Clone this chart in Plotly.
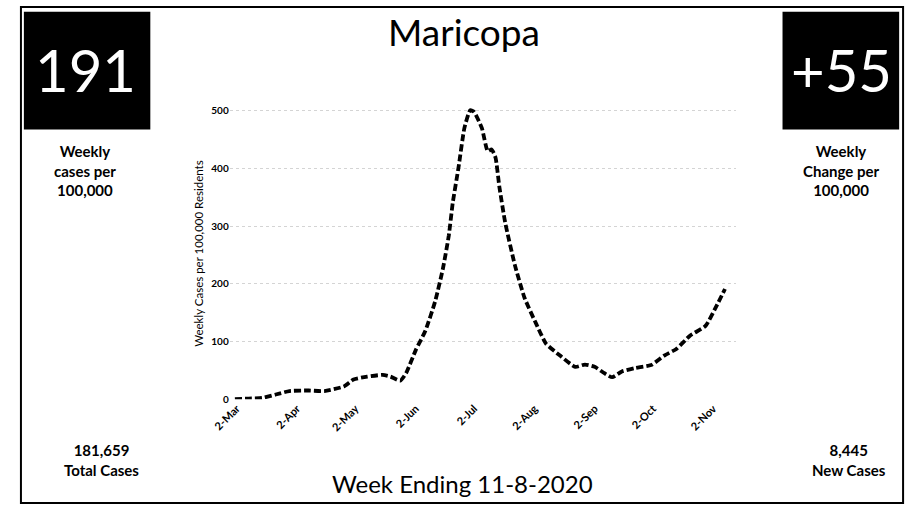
import plotly.graph_objects as go

# ---- data ----
dates = ["2020-03-01", "2020-03-08", "2020-03-15", "2020-03-22", "2020-03-29",
         "2020-04-08", "2020-04-16", "2020-04-26", "2020-05-01", "2020-05-08",
         "2020-05-16", "2020-05-20", "2020-05-25", "2020-05-28", "2020-06-02",
         "2020-06-07", "2020-06-12", "2020-06-16", "2020-06-19", "2020-06-21",
         "2020-06-24", "2020-06-27", "2020-06-30", "2020-07-02", "2020-07-06",
         "2020-07-09", "2020-07-11", "2020-07-13", "2020-07-15", "2020-07-18",
         "2020-07-23", "2020-07-28", "2020-08-03", "2020-08-08", "2020-08-15",
         "2020-08-23", "2020-08-28", "2020-09-02", "2020-09-07", "2020-09-11",
         "2020-09-16", "2020-09-23", "2020-10-01", "2020-10-08", "2020-10-14",
         "2020-10-21", "2020-10-29", "2020-11-04", "2020-11-08"]
weekly_per_100k = [0, 1, 2, 8, 14,
                   15, 14, 22, 34, 39,
                   42, 39, 32, 45, 85,
                   119, 170, 227, 284, 340,
                   402, 470, 501, 498, 470,
                   430, 433, 419, 368, 306,
                   232, 175, 130, 96, 76,
                   56, 60, 56, 45, 38,
                   48, 54, 59, 76, 87,
                   110, 127, 164, 191]

tick_dates = ["2020-03-02", "2020-04-02", "2020-05-02", "2020-06-02", "2020-07-02",
              "2020-08-02", "2020-09-02", "2020-10-02", "2020-11-02"]
tick_labels = ["2-Mar", "2-Apr", "2-May", "2-Jun", "2-Jul", "2-Aug", "2-Sep", "2-Oct", "2-Nov"]
y_ticks = [0, 100, 200, 300, 400, 500]

county = "Maricopa"
weekly_cases_per_100k = "191"
weekly_change = "+55"
total_cases = "181,659"
new_cases = "8,445"
week_ending = "Week Ending 11-8-2020"

W, H = 907, 512
def px(x):
    return x / W
def py(y):
    return 1 - y / H

FONT = "Lato, 'Open Sans', sans-serif"

fig = go.Figure()
fig.add_trace(go.Scatter(
    x=dates, y=weekly_per_100k, mode="lines",
    line=dict(color="black", width=3.8, dash="7px,3px", shape="spline", smoothing=0.5),
    hoverinfo="x+y", showlegend=False,
))

fig.update_layout(
    width=W, height=H,
    margin=dict(l=0, r=0, t=0, b=0),
    paper_bgcolor="white", plot_bgcolor="white",
    font=dict(family=FONT, color="black"),
    xaxis=dict(
        domain=[px(216), px(733)],
        range=["2020-02-27 08:00", "2020-11-13 21:36"],
        tickvals=tick_dates, ticktext=tick_labels, tickangle=-45,
        tickfont=dict(size=11, family=FONT, color="black", weight="bold"),
        showgrid=False, zeroline=False, showline=False, ticks="",
    ),
    yaxis=dict(
        domain=[py(403), py(106)],
        range=[0, 505],
        tickvals=y_ticks,
        tickfont=dict(size=10, family=FONT, color="black", weight="bold"),
        showgrid=True, gridcolor="#d4d4d4", griddash="dot", gridwidth=1,
        zeroline=False, showline=False, ticks="",
        title=dict(text="Weekly Cases per 100,000 Residents",
                   font=dict(size=11.5, family=FONT, color="black"), standoff=5),
    ),
)

shapes = [
    dict(type="rect", xref="paper", yref="paper", x0=px(3), x1=px(903), y0=py(509), y1=py(3),
         line=dict(color="black", width=2), fillcolor="rgba(0,0,0,0)"),
    dict(type="rect", xref="paper", yref="paper", x0=px(6), x1=px(135), y0=py(128), y1=py(8),
         line=dict(color="black", width=0), fillcolor="black"),
    dict(type="rect", xref="paper", yref="paper", x0=px(780), x1=px(899), y0=py(128), y1=py(8),
         line=dict(color="black", width=0), fillcolor="black"),
]
fig.update_layout(shapes=shapes)

def ann(text, x, y, size, color="black", weight="normal"):
    fig.add_annotation(text=text, x=px(x), y=py(y), xref="paper", yref="paper",
                       showarrow=False, xanchor="center", yanchor="middle",
                       font=dict(size=size, color=color, family=FONT, weight=weight))

ann(county, 455, 28, 37)
ann(weekly_cases_per_100k, 69, 67, 58, color="white")
ann(weekly_change, 840, 67, 58, color="white")
ann("Weekly<br>cases per<br>100,000", 68, 170, 15, weight="bold")
ann("Weekly<br>Change per<br>100,000", 840, 170, 15, weight="bold")
ann(total_cases + "<br>Total Cases", 85, 465, 15, weight="bold")
ann(new_cases + "<br>New Cases", 848, 465, 15, weight="bold")
ann(week_ending, 453, 489, 24)

fig.write_html("out.html", config={"displayModeBar": False},
               post_script="document.body.style.margin='0';document.body.style.overflow='hidden';")
